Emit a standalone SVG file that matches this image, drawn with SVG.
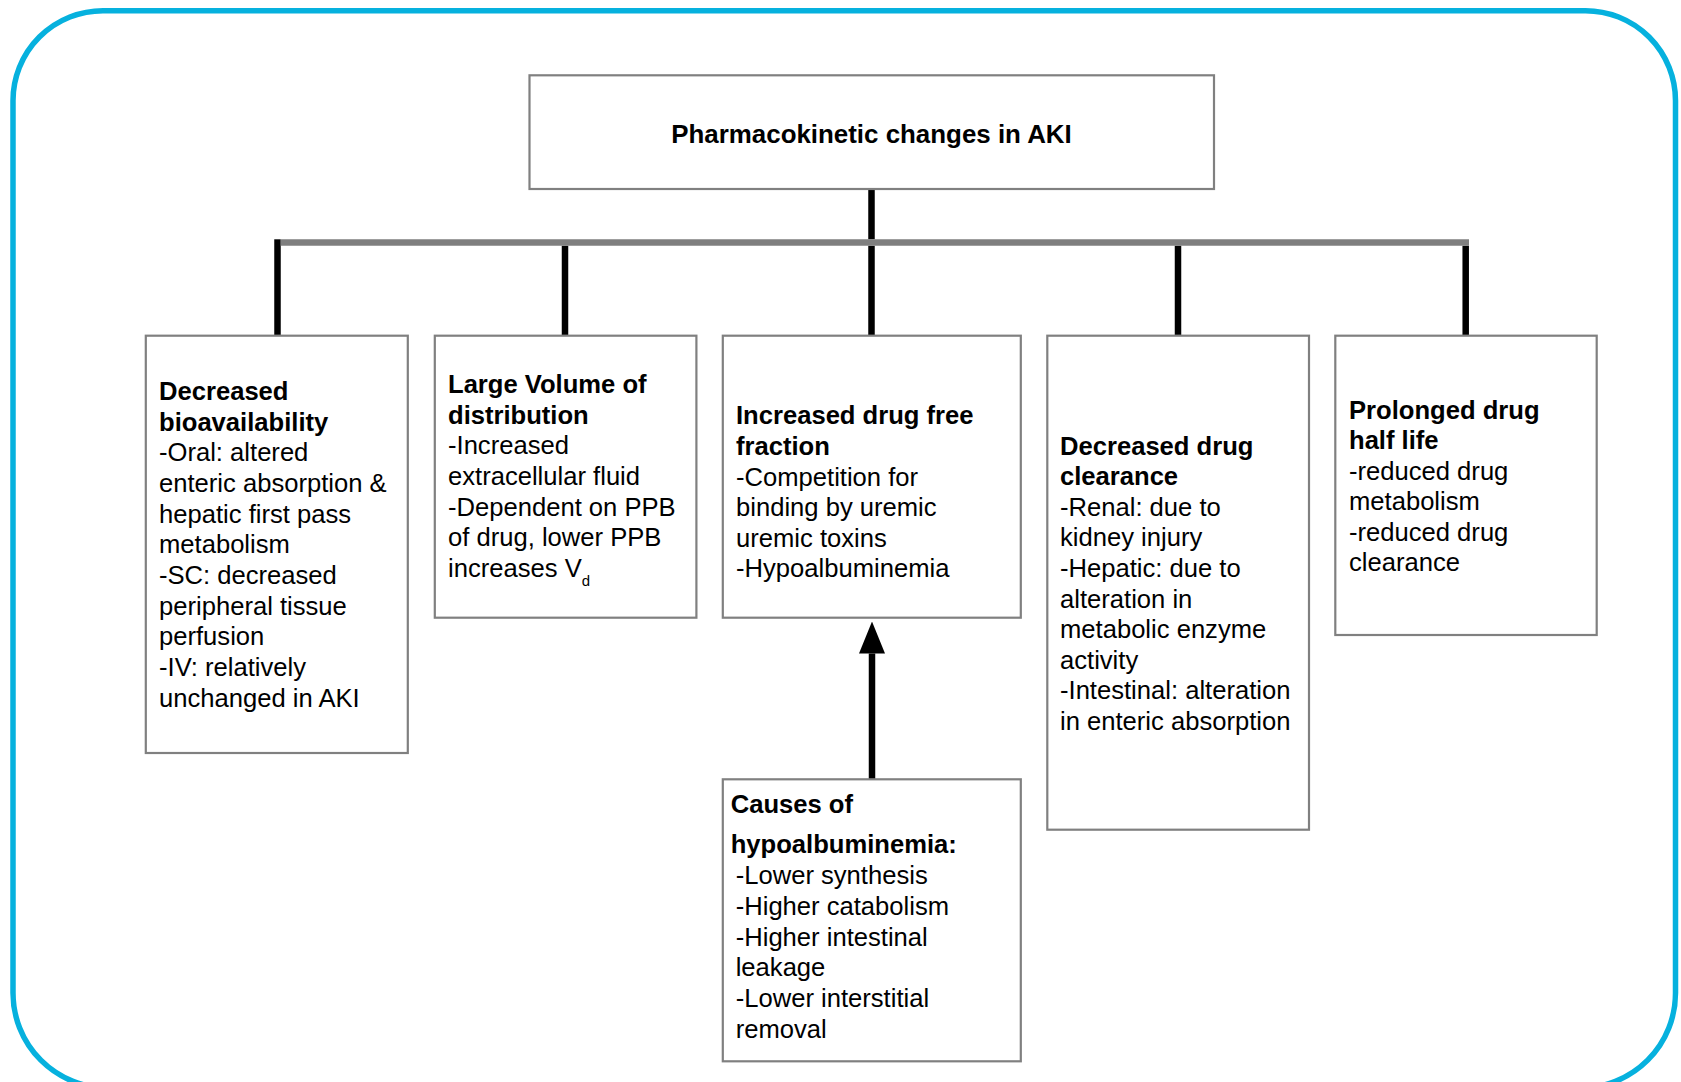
<svg xmlns="http://www.w3.org/2000/svg" width="1681" height="1082" viewBox="0 0 1681 1082">
<style>
.box{fill:#fff;stroke:#808080;stroke-width:2.2}
.t{font-family:"Liberation Sans",Arial,sans-serif;font-size:25.6px;fill:#000}
.b{font-weight:bold}
.conn{stroke:#000;stroke-width:6.5;fill:none}
.bar{stroke:#7f7f7f;stroke-width:6.4;fill:none}
</style>
<defs>
<marker id="ah" viewBox="0 0 32 26" refX="0" refY="13" markerWidth="32" markerHeight="26" markerUnits="userSpaceOnUse" orient="auto">
<path d="M0,0 L32,13 L0,26 Z" fill="#000"/>
</marker>
</defs>
<rect width="1681" height="1082" fill="#fff"/>
<path id="frame" d="M103,10.7 H1585.5 A90,90 0 0 1 1675.5,100.7 V993 A95,95 0 0 1 1580.5,1088 H108 A95,95 0 0 1 13,993 V100.7 A90,90 0 0 1 103,10.7 Z" fill="none" stroke="#06b1de" stroke-width="5.5"/>

<g id="connectors">
<line class="conn" x1="871.5" y1="189" x2="871.5" y2="239.3"/>
<line class="conn" x1="277.5" y1="239.3" x2="277.5" y2="336"/>
<line class="conn" x1="565" y1="245.7" x2="565" y2="338.5"/>
<line class="conn" x1="871.5" y1="245.7" x2="871.5" y2="336"/>
<line class="conn" x1="1178" y1="245.7" x2="1178" y2="338.5"/>
<line class="conn" x1="1465.7" y1="245.7" x2="1465.7" y2="338.5"/>
<line class="bar" x1="280.7" y1="242.5" x2="1469" y2="242.5"/>
<line class="conn" x1="872" y1="779" x2="872" y2="653.5" stroke-width="7" marker-end="url(#ah)"/>
</g>

<g id="n-title">
<rect class="box" x="529.5" y="75.3" width="684.5" height="113.7"/>
<text class="t b" x="871.5" y="142.7" text-anchor="middle" style="font-size:25.9px">Pharmacokinetic changes in AKI</text>
</g>

<g id="n-bioavailability">
<rect class="box" x="145.8" y="335.7" width="262" height="417.3"/>
<text class="t">
<tspan class="b" x="159" y="400">Decreased</tspan>
<tspan class="b" x="159" y="430.7">bioavailability</tspan>
<tspan x="159" y="461.3">-Oral: altered</tspan>
<tspan x="159" y="492">enteric absorption &amp;</tspan>
<tspan x="159" y="522.7">hepatic first pass</tspan>
<tspan x="159" y="553.3">metabolism</tspan>
<tspan x="159" y="584">-SC: decreased</tspan>
<tspan x="159" y="614.7">peripheral tissue</tspan>
<tspan x="159" y="645.3">perfusion</tspan>
<tspan x="159" y="676">-IV: relatively</tspan>
<tspan x="159" y="706.7">unchanged in AKI</tspan>
</text>
</g>

<g id="n-volume">
<rect class="box" x="434.8" y="335.7" width="261.6" height="282"/>
<text class="t">
<tspan class="b" x="448" y="393.3">Large Volume of</tspan>
<tspan class="b" x="448" y="423.9">distribution</tspan>
<tspan x="448" y="454.4">-Increased</tspan>
<tspan x="448" y="485">extracellular fluid</tspan>
<tspan x="448" y="515.5">-Dependent on PPB</tspan>
<tspan x="448" y="546.1">of drug, lower PPB</tspan>
<tspan x="448" y="576.6">increases V<tspan dy="9" style="font-size:15px">d</tspan></tspan>
</text>
</g>

<g id="n-freefraction">
<rect class="box" x="722.8" y="335.7" width="298" height="282"/>
<text class="t">
<tspan class="b" x="736" y="424.3">Increased drug free</tspan>
<tspan class="b" x="736" y="454.9">fraction</tspan>
<tspan x="736" y="485.5">-Competition for</tspan>
<tspan x="736" y="516.1">binding by uremic</tspan>
<tspan x="736" y="546.7">uremic toxins</tspan>
<tspan x="736" y="577.3">-Hypoalbuminemia</tspan>
</text>
</g>

<g id="n-clearance">
<rect class="box" x="1047.3" y="335.7" width="261.7" height="494"/>
<text class="t">
<tspan class="b" x="1060" y="454.6">Decreased drug</tspan>
<tspan class="b" x="1060" y="485.2">clearance</tspan>
<tspan x="1060" y="515.8">-Renal: due to</tspan>
<tspan x="1060" y="546.4">kidney injury</tspan>
<tspan x="1060" y="577">-Hepatic: due to</tspan>
<tspan x="1060" y="607.6">alteration in</tspan>
<tspan x="1060" y="638.2">metabolic enzyme</tspan>
<tspan x="1060" y="668.8">activity</tspan>
<tspan x="1060" y="699.4">-Intestinal: alteration</tspan>
<tspan x="1060" y="730">in enteric absorption</tspan>
</text>
</g>

<g id="n-halflife">
<rect class="box" x="1335.3" y="335.7" width="261.4" height="299.3"/>
<text class="t">
<tspan class="b" x="1349" y="418.8">Prolonged drug</tspan>
<tspan class="b" x="1349" y="448.8">half life</tspan>
<tspan x="1349" y="479.5">-reduced drug</tspan>
<tspan x="1349" y="509.8">metabolism</tspan>
<tspan x="1349" y="540.6">-reduced drug</tspan>
<tspan x="1349" y="571">clearance</tspan>
</text>
</g>

<g id="n-causes">
<rect class="box" x="722.8" y="779.3" width="298" height="282"/>
<text class="t">
<tspan class="b" x="730.7" y="813.3">Causes of</tspan>
<tspan class="b" x="730.7" y="853.3">hypoalbuminemia:</tspan>
<tspan x="735.7" y="884">-Lower synthesis</tspan>
<tspan x="735.7" y="915">-Higher catabolism</tspan>
<tspan x="735.7" y="945.7">-Higher intestinal</tspan>
<tspan x="735.7" y="976">leakage</tspan>
<tspan x="735.7" y="1007.3">-Lower interstitial</tspan>
<tspan x="735.7" y="1037.7">removal</tspan>
</text>
</g>
</svg>
